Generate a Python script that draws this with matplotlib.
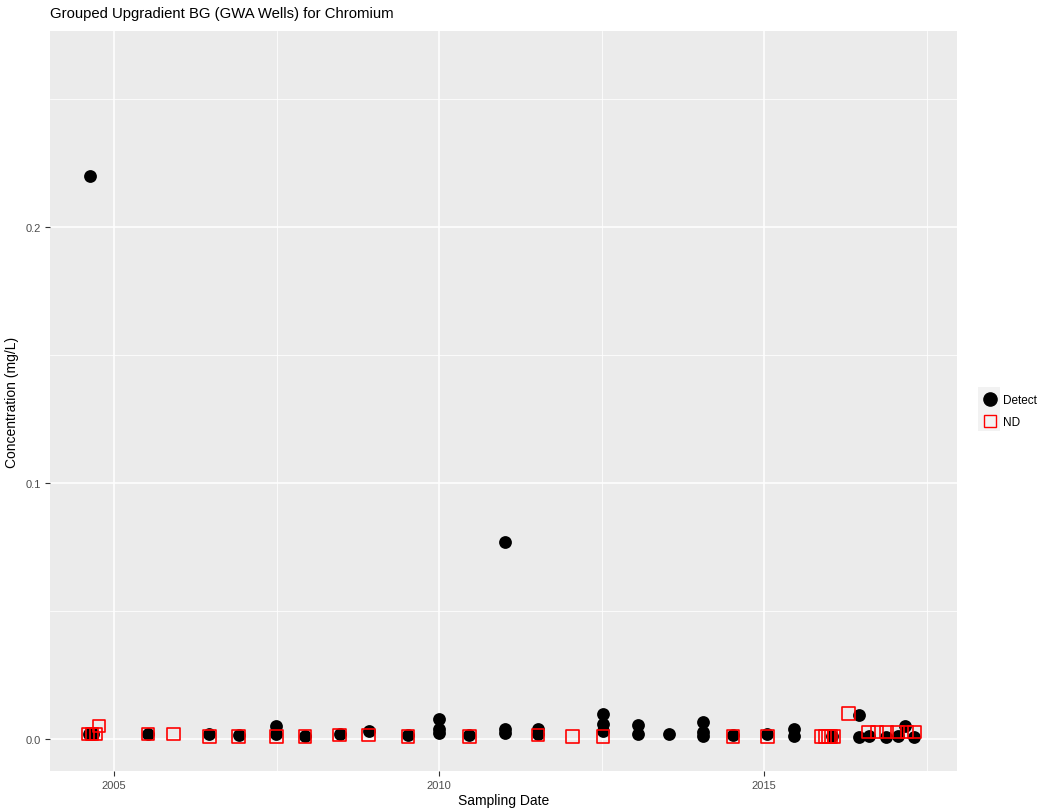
"""Chromium concentrations in grouped upgradient background wells (ggplot-style scatter)."""

from datetime import datetime

import matplotlib
matplotlib.use("Agg")
import matplotlib.dates as mdates
import matplotlib.pyplot as plt
from matplotlib.lines import Line2D
from matplotlib.patches import Rectangle

plt.rcParams["font.family"] = ["Liberation Sans", "DejaVu Sans"]

# ------------------------------------------------------------------ data
detect_dates = [
    "2004-08-15", "2004-08-10", "2004-09-05", "2005-07-10", "2006-06-20",
    "2006-12-01", "2007-07-01", "2007-07-01", "2007-12-10", "2008-06-20",
    "2008-12-01", "2009-07-10", "2010-01-01", "2010-01-01", "2010-01-01",
    "2010-06-20", "2011-01-05", "2011-01-05", "2011-01-05", "2011-07-10",
    "2011-07-10", "2012-07-10", "2012-07-10", "2012-07-10", "2013-01-20",
    "2013-01-20", "2013-07-15", "2014-01-20", "2014-01-20", "2014-01-20",
    "2014-07-10", "2015-01-20", "2015-06-20", "2015-06-20", "2016-01-20",
    "2016-06-20", "2016-06-20", "2016-08-10", "2016-11-15", "2017-01-20",
    "2017-03-05", "2017-04-20",
]
detect_values = [
    0.22, 0.002, 0.002, 0.002, 0.002,
    0.0015, 0.005, 0.002, 0.0012, 0.002,
    0.003, 0.0015, 0.0078, 0.004, 0.0025,
    0.0015, 0.077, 0.004, 0.0025, 0.004,
    0.002, 0.0098, 0.006, 0.003, 0.0055,
    0.002, 0.002, 0.0066, 0.0027, 0.001,
    0.0015, 0.002, 0.004, 0.0012, 0.001,
    0.0094, 0.0008, 0.0012, 0.0008, 0.001,
    0.005, 0.0008,
]

nd_dates = [
    "2004-08-05", "2004-08-28", "2004-09-20", "2004-10-08", "2005-07-10",
    "2005-12-01", "2006-06-20", "2006-12-01", "2007-07-01", "2007-12-10",
    "2008-06-20", "2008-12-01", "2009-07-10", "2010-06-20", "2011-07-10",
    "2012-01-20", "2012-07-10", "2014-07-10", "2015-01-20", "2015-11-20",
    "2015-12-10", "2015-12-28", "2016-01-12", "2016-01-28", "2016-04-20",
    "2016-08-10", "2016-09-25", "2016-11-20", "2017-01-20", "2017-03-15",
    "2017-04-25",
]
nd_values = [
    0.002, 0.002, 0.002, 0.005, 0.002,
    0.002, 0.001, 0.001, 0.001, 0.001,
    0.0015, 0.0015, 0.001, 0.001, 0.0015,
    0.001, 0.001, 0.001, 0.001, 0.001,
    0.001, 0.001, 0.001, 0.001, 0.010,
    0.0027, 0.0027, 0.0027, 0.0027, 0.0027,
    0.0027,
]

title = "Grouped Upgradient BG (GWA Wells) for Chromium"
x_label = "Sampling Date"
y_label = "Concentration (mg/L)"
legend_labels = ["Detect", "ND"]

GREY_BG = "#EBEBEB"
TICK_GREY = "#4D4D4D"


def to_dates(strings):
    return [datetime.strptime(s, "%Y-%m-%d") for s in strings]


def main() -> None:
    fig = plt.figure(figsize=(10.4, 8.12), dpi=100)
    ax = fig.add_axes([50 / 1040, 1 - 772 / 812, 907 / 1040, 740 / 812])
    ax.set_facecolor(GREY_BG)
    for s in ax.spines.values():
        s.set_visible(False)

    ax.scatter(to_dates(detect_dates), detect_values, s=85, color="black",
               marker="o", linewidths=0, zorder=3)
    ax.scatter(to_dates(nd_dates), nd_values, s=80, facecolors="none",
               edgecolors="red", marker="s", linewidths=1.2, zorder=4)

    ax.set_xlim(datetime(2004, 1, 6), datetime(2017, 12, 20))
    ax.set_ylim(-0.0125, 0.2766)

    ax.xaxis.set_major_locator(mdates.YearLocator(5))
    ax.xaxis.set_major_formatter(mdates.DateFormatter("%Y"))
    ax.set_yticks([0.0, 0.1, 0.2])
    ax.set_yticklabels(["0.0", "0.1", "0.2"])
    ax.set_yticks([0.05, 0.15, 0.25], minor=True)

    # ggplot grid: white majors, thinner minors halfway between
    ax.grid(which="major", color="white", lw=1.1)
    ax.yaxis.grid(which="minor", color="white", lw=0.55)
    for yr in (2007, 2012, 2017):
        ax.axvline(datetime(yr, 7, 2), color="white", lw=0.55, zorder=0.5)
    ax.set_axisbelow(True)

    ax.tick_params(which="major", length=3.5, width=0.8, color="#333333",
                   labelsize=8, labelcolor=TICK_GREY, pad=3)
    ax.tick_params(which="minor", length=0)

    ax.set_xlabel(x_label, fontsize=10, labelpad=2)
    ax.set_ylabel(y_label, fontsize=10, labelpad=5)
    fig.text(50 / 1040, 1 - 14 / 812, title, fontsize=10.7, va="center", ha="left")

    # legend with grey key backgrounds, like ggplot
    for i in range(2):
        y0 = 1 - (410 + 22 * i) / 812
        fig.patches.append(Rectangle((978 / 1040, y0), 22 / 1040, 22 / 812,
                                     transform=fig.transFigure,
                                     facecolor="#F2F2F2", edgecolor="none"))
    handles = [
        Line2D([], [], marker="o", ls="none", color="black", markersize=9.5),
        Line2D([], [], marker="s", ls="none", markerfacecolor="none",
               markeredgecolor="red", markeredgewidth=1.0, markersize=9),
    ]
    fig.legend(handles, legend_labels, loc="center left",
               bbox_to_anchor=(970 / 1040, 1 - 412 / 812), frameon=False,
               fontsize=8.5, handlelength=1.6, handletextpad=0.3,
               labelspacing=0.8)

    fig.savefig("out.png", dpi=100)
    plt.close(fig)


if __name__ == "__main__":
    main()
